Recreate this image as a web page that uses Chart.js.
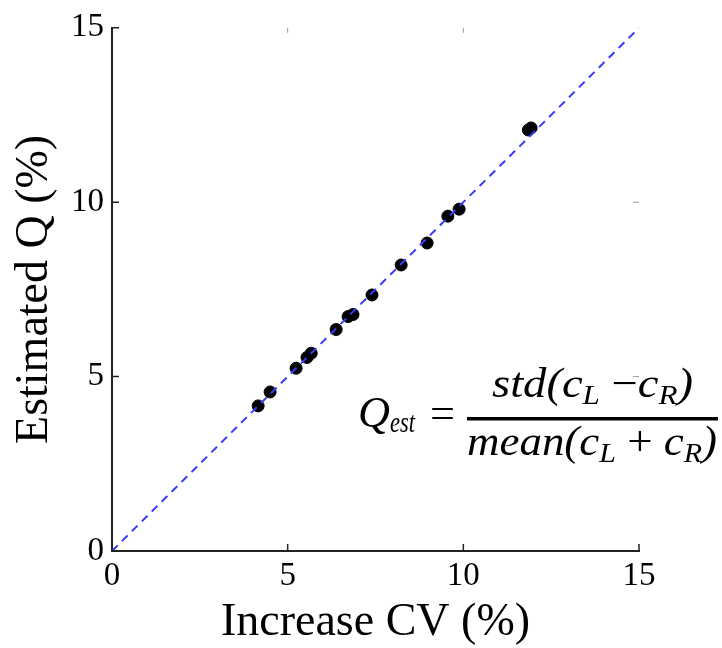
<!DOCTYPE html>
<html>
<head>
<meta charset="utf-8">
<script src="https://cdn.jsdelivr.net/npm/chart.js@4.4.0/dist/chart.umd.min.js"></script>
<style>
  html, body { margin: 0; padding: 0; background: #fff; }
  #wrap { width: 722px; height: 648px; }
</style>
</head>
<body>
<div id="wrap"><canvas id="qChart"></canvas></div>
<script>
const cvIncrease = [4.16, 4.5, 5.24, 5.55, 5.67, 6.38, 6.72, 6.86, 7.4, 8.23, 8.97, 9.56, 9.88, 11.85, 11.93];
const qEstimated = [4.16, 4.56, 5.24, 5.55, 5.67, 6.35, 6.72, 6.78, 7.34, 8.2, 8.83, 9.6, 9.8, 12.07, 12.13];
// y = x 기준선
const identityX = [0, 15];
const identityY = [0, 15];
const tickValues = [0, 5, 10, 15];

const serif = "'Liberation Serif', 'DejaVu Serif', serif";

// 축 안쪽으로 들어가는 눈금
const innerTicks = {
    id: 'innerTicks',
    afterDraw(chart) {
        const ctx = chart.ctx;
        const xs = chart.scales.x, ys = chart.scales.y;
        const a = chart.chartArea;
        ctx.save();
        tickValues.forEach(function(v) {
            const px = xs.getPixelForValue(v);
            const py = ys.getPixelForValue(v);
            ctx.strokeStyle = '#222';
            ctx.lineWidth = 1.5;
            ctx.beginPath();
            ctx.moveTo(px, a.bottom); ctx.lineTo(px, a.bottom - 7);
            ctx.moveTo(a.left, py); ctx.lineTo(a.left + 7, py);
            ctx.stroke();
            if (v > 0 && v < 15) {
                ctx.strokeStyle = '#999';
                ctx.lineWidth = 1;
                ctx.beginPath();
                ctx.moveTo(px, a.top); ctx.lineTo(px, a.top + 5);
                ctx.moveTo(a.right, py); ctx.lineTo(a.right - 6, py);
                ctx.stroke();
            }
        });
        ctx.restore();
    }
};

// 수식 그리기
function drawRun(ctx, parts, left, width, baseline) {
    let natural = 0;
    parts.forEach(function(p) {
        ctx.font = (p.it ? 'italic ' : '') + p.s + 'px ' + serif;
        p.w = ctx.measureText(p.t).width;
        natural += p.w;
    });
    ctx.save();
    ctx.translate(left, baseline);
    ctx.scale(width / natural, 1);
    let x = 0;
    parts.forEach(function(p) {
        ctx.font = (p.it ? 'italic ' : '') + p.s + 'px ' + serif;
        ctx.fillText(p.t, x, p.dy || 0);
        x += p.w;
    });
    ctx.restore();
}

const formula = {
    id: 'formula',
    afterDraw(chart) {
        const ctx = chart.ctx;
        ctx.save();
        ctx.fillStyle = '#000';
        ctx.textBaseline = 'alphabetic';
        ctx.textAlign = 'left';
        drawRun(ctx, [{ t: 'Q', s: 44, it: true }], 358, 32, 427);
        drawRun(ctx, [{ t: 'est', s: 30, it: true }], 390, 25, 432);
        drawRun(ctx, [{ t: '=', s: 42 }], 430, 25, 427);
        ctx.fillRect(467, 417, 251, 3.5);
        drawRun(ctx, [
            { t: 'std(c', s: 42, it: true },
            { t: 'L', s: 28, it: true, dy: 7 },
            { t: ' \u2212', s: 42 },
            { t: 'c', s: 42, it: true },
            { t: 'R', s: 28, it: true, dy: 7 },
            { t: ')', s: 42, it: true }
        ], 492, 201, 397);
        drawRun(ctx, [
            { t: 'mean(c', s: 42, it: true },
            { t: 'L', s: 28, it: true, dy: 7 },
            { t: ' + ', s: 42 },
            { t: 'c', s: 42, it: true },
            { t: 'R', s: 28, it: true, dy: 7 },
            { t: ')', s: 42, it: true }
        ], 467, 250, 455);
        ctx.restore();
    }
};

const points = cvIncrease.map(function(x, i) { return { x: x, y: qEstimated[i] }; });
const identity = identityX.map(function(x, i) { return { x: x, y: identityY[i] }; });

new Chart(document.getElementById('qChart'), {
    type: 'scatter',
    data: {
        datasets: [
            {
                label: 'y = x',
                data: identity,
                showLine: true,
                borderColor: '#3a3aff',
                borderWidth: 2,
                borderDash: [8, 6],
                pointRadius: 0,
                order: 0
            },
            {
                label: 'Q',
                data: points,
                backgroundColor: '#000',
                borderColor: '#000',
                pointRadius: 6,
                order: 1
            }
        ]
    },
    options: {
        responsive: true,
        maintainAspectRatio: false,
        animation: false,
        layout: { padding: { top: 24, right: 83, left: 0, bottom: 0 } },
        plugins: { legend: { display: false }, tooltip: { enabled: false } },
        scales: {
            x: {
                type: 'linear', min: 0, max: 15,
                grid: { display: false, drawTicks: false },
                border: { display: true, color: '#222', width: 2 },
                ticks: { stepSize: 5, padding: 6, color: '#000', font: { family: serif, size: 33 } },
                title: { display: true, text: 'Increase CV (%)', color: '#000',
                         font: { family: serif, size: 46, lineHeight: 1 }, padding: { top: 0, bottom: 2 } },
                afterFit: function(s) { s.height = 97; }
            },
            y: {
                type: 'linear', min: 0, max: 15,
                grid: { display: false, drawTicks: false },
                border: { display: true, color: '#222', width: 2 },
                ticks: { stepSize: 5, padding: 8, color: '#000', font: { family: serif, size: 33 } },
                title: { display: true, text: 'Estimated Q (%)', color: '#000',
                         font: { family: serif, size: 46, lineHeight: 1 }, padding: { top: 12, bottom: 0 } },
                afterFit: function(s) { s.width = 112; }
            }
        }
    },
    plugins: [innerTicks, formula]
});
</script>
</body>
</html>
